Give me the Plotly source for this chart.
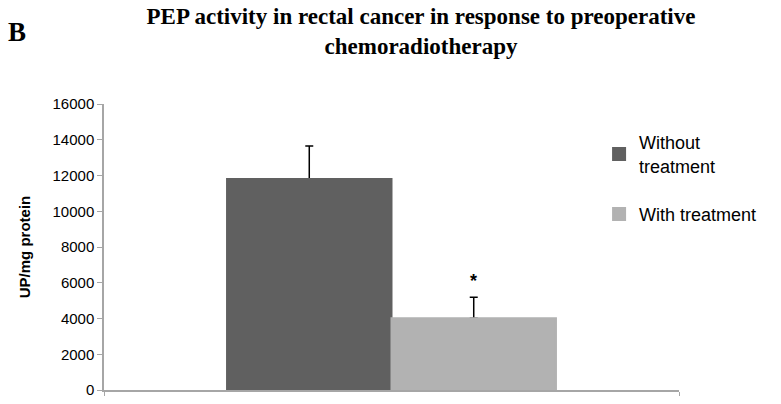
import plotly.graph_objects as go

groups = ["Without<br>treatment", "With treatment"]
values = [11800, 4020]
errors = [1850, 1170]
colors = ["#606060", "#b2b2b2"]
y_ticks = [0, 2000, 4000, 6000, 8000, 10000, 12000, 14000, 16000]
marks = ["", "*"]

fig = go.Figure()

# error bars first, then the bars on top so the lower cap is hidden
for i in range(len(groups)):
    fig.add_trace(go.Bar(
        x=[0], y=[values[i]], offsetgroup=str(i), showlegend=False,
        marker=dict(color=colors[i]), hoverinfo="skip",
        error_y=dict(type="data", array=[errors[i]], symmetric=False,
                     arrayminus=[0], color="black", thickness=1.5, width=4),
    ))
for i in range(len(groups)):
    fig.add_trace(go.Bar(
        x=[0], y=[values[i]], name=groups[i],
        legendgroup=str(i), offsetgroup=str(i),
        marker=dict(color=colors[i], line=dict(color=colors[i], width=2)),
    ))

gap = 0.428
bar_w = (1 - gap) / 2
for i, m in enumerate(marks):
    if m:
        fig.add_annotation(
            x=-(1 - gap) / 2 + bar_w * (i + 0.5), y=values[i] + errors[i],
            text="<b>" + m + "</b>", showarrow=False, yshift=16, yanchor="middle",
            font=dict(family="Arial", size=18, color="black"),
        )

fig.add_annotation(
    xref="paper", yref="paper", x=-0.151, y=1.252,
    xanchor="center", yanchor="middle", text="<b>B</b>", showarrow=False,
    font=dict(family="Liberation Serif", size=27, color="black"),
)

fig.update_layout(
    width=781, height=404,
    margin=dict(l=104, r=102, t=104, b=14),
    paper_bgcolor="white", plot_bgcolor="white",
    barmode="group", bargap=gap, bargroupgap=0,
    title=dict(
        text="<b>PEP activity in rectal cancer in response to preoperative<br>chemoradiotherapy</b>",
        x=421 / 781, xanchor="center", y=1 - 24 / 404, yanchor="middle",
        font=dict(family="Liberation Serif", size=23, color="black"),
    ),
    xaxis=dict(range=[-0.5, 0.5], tickvals=[-0.5, 0.5], ticktext=["", ""],
               ticks="outside", ticklen=4, tickcolor="#a6a6a6",
               showline=True, linecolor="#a6a6a6", linewidth=1.5,
               showgrid=False, zeroline=False, automargin=False),
    yaxis=dict(range=[0, 16000], tickvals=y_ticks, tickformat="d",
               ticks="outside", ticklen=5,
               tickcolor="#a6a6a6", showline=True, linecolor="#a6a6a6",
               linewidth=1.5, showgrid=False, zeroline=False, automargin=False,
               tickfont=dict(family="Arial", size=15, color="black"),
               title=dict(text="<b>UP/mg protein</b>", standoff=18,
                          font=dict(family="Arial", size=15, color="black"))),
    legend=dict(x=0.861, y=0.93, xanchor="left", yanchor="top",
                traceorder="grouped", tracegroupgap=22,
                font=dict(family="Arial", size=18, color="black"),
                itemwidth=30, bgcolor="rgba(0,0,0,0)"),
    showlegend=True,
)

fig.write_html("out.html", config={"displayModeBar": False},
               post_script="document.body.style.margin='0';")
